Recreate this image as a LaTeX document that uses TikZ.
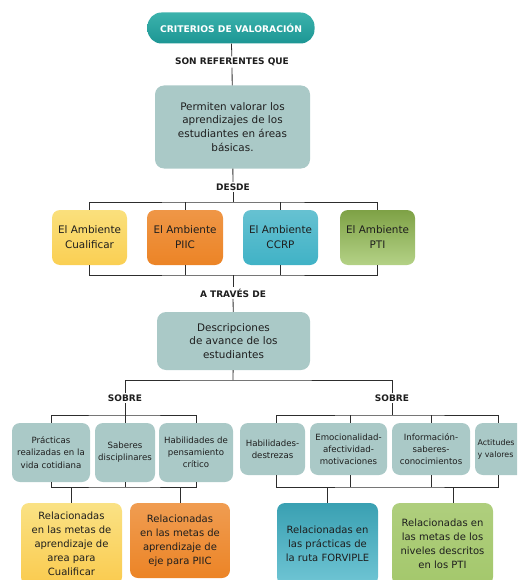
\documentclass[tikz,border=0pt]{standalone}
\usepackage{fontspec}
\setmainfont{DejaVu Sans}
\usepackage{tikz}
\usetikzlibrary{positioning,calc}
\definecolor{CritTeal}{RGB}{28,150,148}
\definecolor{CritTealLight}{RGB}{60,178,172}
\definecolor{GrayTeal}{RGB}{170,201,199}
\definecolor{AmbYellow}{RGB}{249,216,92}
\definecolor{AmbOrange}{RGB}{236,132,38}
\definecolor{AmbCyan}{RGB}{64,178,198}
\definecolor{AmbGreen}{RGB}{148,190,82}
\definecolor{DarkText}{RGB}{30,30,30}
\definecolor{LineGray}{RGB}{45,45,45}

\begin{document}
\begin{tikzpicture}[x=1pt,y=-1pt,
  crit/.style={rounded corners=14pt,top color=CritTealLight,bottom color=CritTeal,
               text=white,font=\fontsize{9.2}{11}\selectfont\bfseries,inner sep=0pt},
  lbl/.style={text=DarkText,font=\fontsize{9}{11}\selectfont\bfseries,inner sep=1.5pt,fill=white},
  gbox/.style={fill=GrayTeal,rounded corners=9pt,text=DarkText,align=center,inner sep=0pt,
               font=\fontsize{10.4}{13.8}\selectfont},
  sbox/.style={fill=GrayTeal,rounded corners=8pt,text=DarkText,align=center,inner sep=0pt,
               font=\fontsize{8.6}{12.2}\selectfont},
  abox/.style={rounded corners=8pt,text=DarkText,align=center,inner sep=0pt,
               font=\fontsize{10.4}{15}\selectfont},
  rbox/.style={rounded corners=8pt,text=DarkText,align=center,inner sep=0pt,
               font=\fontsize{10}{14}\selectfont},
  ln/.style={draw=LineGray,line width=0.8pt},
]
\useasboundingbox (0,0) rectangle (517,580);
\clip (0,0) rectangle (517,580);

% top
\node[crit,minimum width=167,minimum height=31] (crit) at (231,28) {CRITERIOS DE VALORACIÓN};
\node[lbl] (sonref) at (232,62) {SON REFERENTES QUE};
\node[gbox,minimum width=155,minimum height=83] (perm) at (232.5,127)
  {Permiten valorar los\\aprendizajes de los\\estudiantes en áreas\\básicas.};
\node[lbl] (desde) at (233,187) {DESDE};

% ambientes
\node[abox,minimum width=75,minimum height=55,top color=AmbYellow!80!white,bottom color=AmbYellow!90!orange] (amb1) at (89.5,237.5) {El Ambiente\\Cualificar};
\node[abox,minimum width=76,minimum height=55,top color=AmbOrange!85!white,bottom color=AmbOrange] (amb2) at (185,237.5) {El Ambiente\\PIIC};
\node[abox,minimum width=75,minimum height=55,top color=AmbCyan!80!white,bottom color=AmbCyan] (amb3) at (280.5,237.5) {El Ambiente\\CCRP};
\node[abox,minimum width=75,minimum height=55,top color=AmbGreen!85!black,bottom color=AmbGreen!70!white] (amb4) at (377.5,237.5) {El Ambiente\\PTI};

\node[lbl] (atraves) at (233,293) {A TRAVÉS DE};
\node[gbox,minimum width=153,minimum height=58] (desc) at (233.5,341)
  {Descripciones\\de avance de los\\estudiantes};
\node[lbl] (sobreL) at (125,398) {SOBRE};
\node[lbl] (sobreR) at (392,398) {SOBRE};

% izquierda
\node[sbox,minimum width=78,minimum height=59] (prac) at (51,452.5) {Prácticas\\realizadas en la\\vida cotidiana};
\node[sbox,minimum width=60,minimum height=59] (sab) at (125,452.5) {Saberes\\disciplinares};
\node[sbox,minimum width=74,minimum height=59] (hab) at (196,452.5) {Habilidades de\\pensamiento\\crítico};
\node[rbox,minimum width=101,minimum height=82,top color=AmbYellow!75!white,bottom color=AmbYellow!85!orange] (relA) at (71.5,544)
  {Relacionadas\\en las metas de\\aprendizaje de\\area para\\Cualificar};
\node[rbox,minimum width=100,minimum height=75,top color=AmbOrange!80!white,bottom color=AmbOrange] (relB) at (180,540.5)
  {Relacionadas\\en las metas de\\aprendizaje de\\eje para PIIC};

% derecha
\node[sbox,minimum width=65,minimum height=52] (hdes) at (272.5,449) {Habilidades-\\destrezas};
\node[sbox,minimum width=77,minimum height=52] (emoc) at (348.5,449) {Emocionalidad-\\afectividad-\\motivaciones};
\node[sbox,minimum width=78,minimum height=52] (info) at (431,449) {Información-\\saberes-\\conocimientos};
\node[sbox,minimum width=54,minimum height=52,text width=49,align=left,inner xsep=2.5pt,
      font=\fontsize{7.9}{12}\selectfont] (acti) at (502,449) {Actitudes\\y valores};
\node[rbox,minimum width=101,minimum height=82,top color=AmbCyan!90!black,bottom color=AmbCyan!75!white] (relC) at (327.5,544)
  {Relacionadas en\\las prácticas de\\la ruta FORVIPLE};
\node[rbox,minimum width=101,minimum height=82,top color=AmbGreen!75!white,bottom color=AmbGreen!85!white] (relD) at (442.5,544)
  {Relacionadas en\\las metas de los\\niveles descritos\\en los PTI};

% conectores
\coordinate (bk1) at (233,202);
\coordinate (bk2) at (233,275);
\coordinate (bk3) at (233,380);
\coordinate (bk4) at (125,415);
\coordinate (bk5) at (125,487);
\coordinate (bk6) at (392,415);
\coordinate (bk7) at (392,487);
\draw[ln] (crit) -- (sonref);
\draw[ln] (sonref) -- (perm);
\draw[ln] (perm) -- (desde);
\draw[ln] (desde) -- (bk1);
\draw[ln] (amb1.north) |- (bk1) -| (amb4.north);
\draw[ln] (amb1.south) |- (bk2) -| (amb4.south);
\foreach \n in {amb2,amb3} {
  \draw[ln] (\n.north) -- (\n.north |- bk1);
  \draw[ln] (\n.south) -- (\n.south |- bk2);
}
\draw[ln] (bk2) -- (atraves);
\draw[ln] (atraves) -- (desc);
\draw[ln] (desc) -- (bk3);
\draw[ln] (sobreL) |- (bk3) -| (sobreR);
\draw[ln] (sobreL) -- (bk4);
\draw[ln] (prac.north) |- (bk4) -| (hab.north);
\draw[ln] (sab.north) -- (sab.north |- bk4);
\draw[ln] (prac.south) |- (bk5) -| (hab.south);
\draw[ln] (sab.south) -- (sab.south |- bk5);
\draw[ln] (relA.north) -- (relA.north |- bk5);
\draw[ln] (relB.north) -- (relB.north |- bk5);
\draw[ln] (sobreR) -- (bk6);
\draw[ln] ([xshift=4]hdes.north) |- (bk6) -| ([xshift=-4]acti.north);
\draw[ln] ([xshift=1.5]emoc.north) -- ([xshift=1.5]emoc.north |- bk6);
\draw[ln] (info.north) -- (info.north |- bk6);
\draw[ln] ([xshift=4]hdes.south) |- (bk7) -| ([xshift=-4]acti.south);
\draw[ln] ([xshift=1.5]emoc.south) -- ([xshift=1.5]emoc.south |- bk7);
\draw[ln] (info.south) -- (info.south |- bk7);
\draw[ln] (relC.north) -- (relC.north |- bk7);
\draw[ln] ([xshift=10.5]relD.north) -- ([xshift=10.5]relD.north |- bk7);
\end{tikzpicture}
\end{document}
